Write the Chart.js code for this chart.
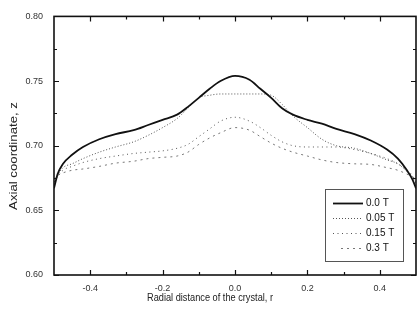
<!DOCTYPE html>
<html>
<head>
<meta charset="utf-8">
<script src="https://cdn.jsdelivr.net/npm/chart.js@4/dist/chart.umd.min.js"></script>
<style>
html,body{margin:0;padding:0;background:#fff;}
#wrap{width:417px;height:316px;position:relative;}
</style>
</head>
<body>
<div id="wrap"><canvas id="c" width="417" height="316"></canvas></div>
<script>
// ---- data ----
const radius = [-0.5, -0.49, -0.475, -0.45, -0.42, -0.375, -0.33, -0.28, -0.24, -0.2, -0.16, -0.13, -0.1, -0.07, -0.04, 0, 0.04, 0.07, 0.1, 0.13, 0.16, 0.2, 0.24, 0.28, 0.33, 0.375, 0.42, 0.45, 0.475, 0.49, 0.5];
const z_0T    = [0.667,0.678,0.686,0.693,0.699,0.705,0.709,0.712,0.716,0.720,0.724,0.730,0.737,0.744,0.750,0.754,0.751,0.744,0.737,0.729,0.724,0.720,0.717,0.713,0.709,0.704,0.697,0.690,0.681,0.674,0.667];
const z_005T  = [0.670,0.677,0.683,0.686,0.690,0.695,0.699,0.703,0.708,0.714,0.721,0.729,0.737,0.739,0.740,0.740,0.740,0.740,0.739,0.732,0.723,0.714,0.705,0.700,0.698,0.694,0.689,0.686,0.680,0.676,0.670];
const z_015T  = [0.672,0.676,0.681,0.684,0.687,0.690,0.692,0.694,0.695,0.696,0.698,0.701,0.707,0.713,0.719,0.722,0.719,0.714,0.708,0.703,0.700,0.699,0.699,0.699,0.697,0.694,0.690,0.686,0.681,0.677,0.672];
const z_03T   = [0.674,0.677,0.679,0.681,0.682,0.684,0.6865,0.688,0.690,0.691,0.692,0.695,0.701,0.706,0.710,0.714,0.712,0.707,0.702,0.698,0.695,0.692,0.689,0.687,0.686,0.6855,0.683,0.681,0.678,0.676,0.673];
const seriesLabels = ["0.0 T", "0.05 T", "0.15 T", "0.3 T"];
const xTickValues = [-0.4, -0.2, 0.0, 0.2, 0.4];
const xMinorValues = [-0.3, -0.1, 0.1, 0.3];
const yTickValues = [0.60, 0.65, 0.70, 0.75, 0.80];
const yMinorValues = [0.625, 0.675, 0.725, 0.775];
const xTitle = "Radial distance of the crystal, r";
const yTitle = "Axial coordinate, z";

const pts = arr => radius.map((r, i) => ({x: r, y: arr[i]}));
const styles = [
  {borderColor:'#111', borderWidth:1.8, borderDash:[]},
  {borderColor:'#555', borderWidth:1, borderDash:[1,2]},
  {borderColor:'#555', borderWidth:1, borderDash:[1,3.5]},
  {borderColor:'#777', borderWidth:1, borderDash:[2,4]}
];
const allZ = [z_0T, z_005T, z_015T, z_03T];
const datasets = allZ.map((z, i) => Object.assign({
  label: seriesLabels[i],
  data: pts(z),
  pointRadius: 0,
  fill: false,
  cubicInterpolationMode: 'monotone'
}, styles[i]));

const FONT = '"Liberation Sans", Arial, sans-serif';

const decor = {
  id: 'decor',
  afterDraw(chart) {
    const ctx = chart.ctx;
    const a = chart.chartArea;
    const xs = chart.scales.x, ys = chart.scales.y;
    ctx.save();
    // frame
    ctx.strokeStyle = '#111';
    ctx.lineWidth = 1.6;
    ctx.strokeRect(a.left, a.top, a.right - a.left, a.bottom - a.top);
    // ticks (inward, mirrored)
    ctx.lineWidth = 1.2;
    const tickX = (v, len) => {
      const p = Math.round(xs.getPixelForValue(v)) + 0.5;
      ctx.beginPath();
      ctx.moveTo(p, a.bottom); ctx.lineTo(p, a.bottom - len);
      ctx.moveTo(p, a.top); ctx.lineTo(p, a.top + len);
      ctx.stroke();
    };
    const tickY = (v, len) => {
      const p = Math.round(ys.getPixelForValue(v)) + 0.5;
      ctx.beginPath();
      ctx.moveTo(a.left, p); ctx.lineTo(a.left + len, p);
      ctx.moveTo(a.right, p); ctx.lineTo(a.right - len, p);
      ctx.stroke();
    };
    xTickValues.forEach(v => tickX(v, 5));
    xMinorValues.forEach(v => tickX(v, 3));
    yTickValues.forEach(v => tickY(v, 5));
    yMinorValues.forEach(v => tickY(v, 3));

    // axis titles
    ctx.fillStyle = '#222';
    ctx.font = '11px ' + FONT;
    ctx.textAlign = 'left';
    ctx.textBaseline = 'middle';
    ctx.fillText(xTitle, 147, 298, 126);
    ctx.save();
    ctx.translate(14, 156);
    ctx.rotate(-Math.PI / 2);
    ctx.scale(1.2, 1);
    ctx.textAlign = 'center';
    ctx.fillText(yTitle, 0, 0);
    ctx.restore();

    // legend box
    const bx = 325, by = 189, bw = 78, bh = 72;
    ctx.fillStyle = '#fff';
    ctx.fillRect(bx, by, bw, bh);
    ctx.strokeStyle = '#555';
    ctx.lineWidth = 1;
    ctx.strokeRect(bx + 0.5, by + 0.5, bw, bh);
    const rows = [203, 218, 233, 248];
    ctx.font = '10px ' + FONT;
    ctx.textAlign = 'left';
    ctx.textBaseline = 'middle';
    datasets.forEach((d, i) => {
      const y = rows[i] + 0.5;
      ctx.strokeStyle = d.borderColor;
      ctx.lineWidth = d.borderWidth;
      ctx.setLineDash(d.borderDash);
      ctx.beginPath();
      ctx.moveTo(i === 3 ? 341 : 333, y);
      ctx.lineTo(363, y);
      ctx.stroke();
      ctx.setLineDash([]);
      ctx.fillStyle = '#111';
      ctx.fillText(d.label, 366, y);
    });
    ctx.restore();
  }
};

new Chart(document.getElementById('c'), {
  type: 'line',
  data: { datasets },
  options: {
    responsive: false,
    animation: false,
    devicePixelRatio: 1,
    layout: { padding: { top: 13, right: 1, left: 0, bottom: 0 } },
    plugins: { legend: { display: false }, tooltip: { enabled: false } },
    scales: {
      x: {
        type: 'linear', min: -0.5, max: 0.5,
        grid: { display: false, drawTicks: false },
        border: { display: false },
        afterBuildTicks: s => { s.ticks = xTickValues.map(v => ({value: v})); },
        afterFit: s => { s.height = 41; },
        ticks: {
          padding: 8, color: '#333', font: { size: 9, family: FONT },
          maxRotation: 0, autoSkip: false,
          callback: v => v.toFixed(1)
        }
      },
      y: {
        type: 'linear', min: 0.60, max: 0.80,
        grid: { display: false, drawTicks: false },
        border: { display: false },
        afterBuildTicks: s => { s.ticks = yTickValues.map(v => ({value: v})); },
        afterFit: s => { s.width = 54; },
        ticks: {
          padding: 11, color: '#333', font: { size: 9, family: FONT },
          autoSkip: false,
          callback: v => v.toFixed(2)
        }
      }
    }
  },
  plugins: [decor]
});
</script>
</body>
</html>
